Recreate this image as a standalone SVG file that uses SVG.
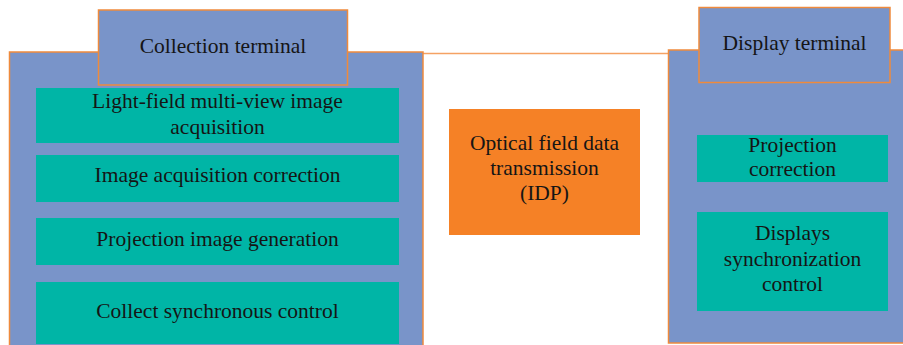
<svg xmlns="http://www.w3.org/2000/svg" width="903" height="345" viewBox="0 0 903 345">
<style>
.panel{fill:#7994C9;stroke:#EF8A3C;stroke-width:1.5}
.item{fill:#00B5A6}
.center{fill:#F58126}
text{font-family:"Liberation Serif","Times New Roman",serif;font-size:21.5px;fill:#151515;text-anchor:middle}
</style>
<rect width="903" height="345" fill="#ffffff"/>
<g id="connectors">
<line x1="423" y1="53.5" x2="668" y2="53.5" stroke="#F5A263" stroke-width="1.5"/>
</g>
<g id="collection-panel">
<rect class="panel" x="9.5" y="52" width="413.5" height="300"/>
</g>
<g id="collection-terminal">
<rect class="panel" x="98.5" y="10" width="249" height="75"/>
<text x="223" y="53">Collection terminal</text>
</g>
<g id="light-field-acquisition">
<rect class="item" x="36" y="88" width="363" height="55"/>
<text x="217.5" y="108">Light-field multi-view image</text>
<text x="217.5" y="133.5">acquisition</text>
</g>
<g id="image-acquisition-correction">
<rect class="item" x="36" y="155" width="363" height="47"/>
<text x="217.5" y="182">Image acquisition correction</text>
</g>
<g id="projection-image-generation">
<rect class="item" x="36" y="218" width="363" height="47"/>
<text x="217.5" y="245.5">Projection image generation</text>
</g>
<g id="collect-synchronous-control">
<rect class="item" x="36" y="282" width="363" height="62"/>
<text x="217.5" y="317.5">Collect synchronous control</text>
</g>
<g id="optical-transmission">
<rect class="center" x="449" y="109" width="191" height="126"/>
<text x="544.5" y="150">Optical field data</text>
<text x="544.5" y="175">transmission</text>
<text x="544.5" y="200">(IDP)</text>
</g>
<g id="display-panel">
<rect class="panel" x="668.5" y="50" width="250" height="293"/>
</g>
<g id="display-terminal">
<rect class="panel" x="699" y="7.5" width="191" height="75"/>
<text x="794.5" y="50">Display terminal</text>
</g>
<g id="projection-correction">
<rect class="item" x="697" y="135" width="191" height="47"/>
<text x="792.5" y="151.5">Projection</text>
<text x="792.5" y="175.5">correction</text>
</g>
<g id="displays-sync-control">
<rect class="item" x="697" y="212" width="191" height="99"/>
<text x="792.5" y="240">Displays</text>
<text x="792.5" y="265.5">synchronization</text>
<text x="792.5" y="291">control</text>
</g>
</svg>
